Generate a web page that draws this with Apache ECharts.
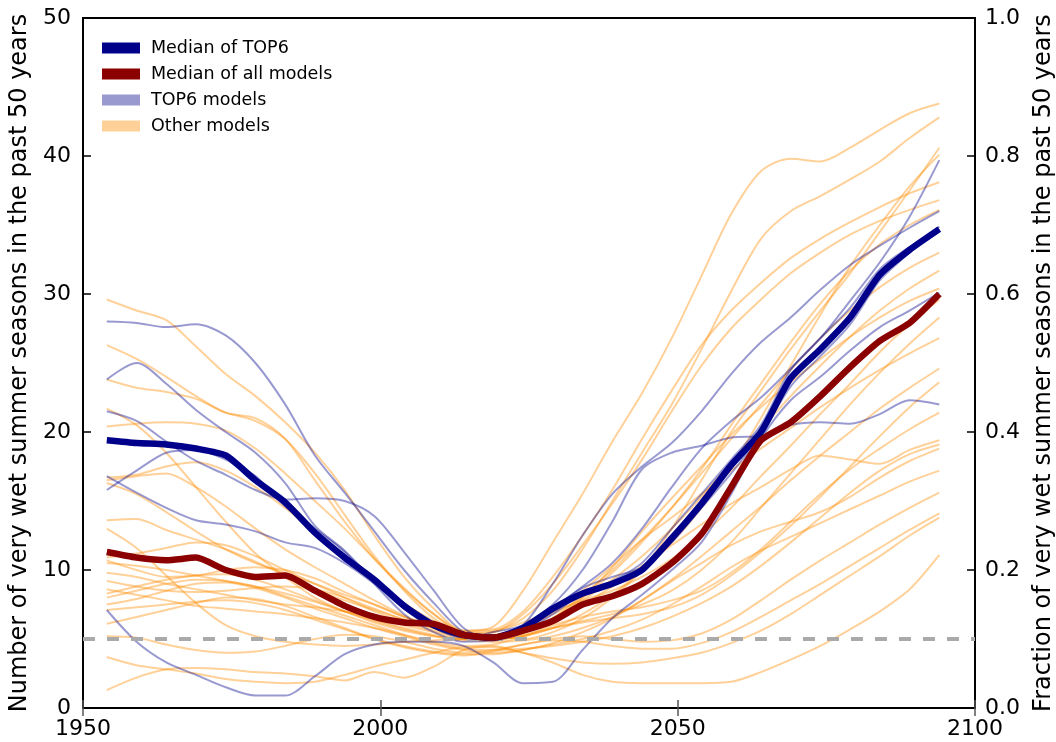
<!DOCTYPE html>
<html>
<head>
<meta charset="utf-8">
<script src="https://cdn.jsdelivr.net/npm/echarts@6/dist/echarts.min.js"></script>
<style>
  html, body { margin: 0; padding: 0; background: #fff; }
  #chart { width: 1056px; height: 742px; }
</style>
</head>
<body>
<div id="chart"></div>
<script>
// Sample years (5-year steps of the 50-year running window end)
const years = [1954,1959,1964,1969,1974,1979,1984,1989,1994,1999,2004,2009,2014,2019,2024,2029,2034,2039,2044,2049,2054,2059,2064,2069,2074,2079,2084,2089,2094];

// Medians
const medianTop6 = [19.4,19.2,19.1,18.8,18.3,16.5,14.9,12.7,10.9,9.3,7.4,6.0,5.3,5.1,5.8,7.2,8.3,9.0,10.0,12.3,14.8,17.6,20.0,23.9,26.0,28.3,31.4,33.2,34.7];
const medianAll  = [11.3,10.9,10.7,10.9,10.0,9.5,9.6,8.5,7.4,6.6,6.2,6.1,5.3,5.1,5.6,6.3,7.5,8.1,9.0,10.5,12.6,16.0,19.4,20.7,22.6,24.7,26.6,27.9,30.0];

// TOP6 models
const top1 = [28.0,27.9,27.6,27.8,27.0,25.0,22.0,18.3,15.6,12.8,10.0,7.6,5.5,4.9,6.0,9.0,12.5,15.5,17.5,19.2,21.5,24.2,26.5,28.3,30.3,32.1,33.5,34.8,36.0];
const top2 = [23.8,25.0,23.5,21.6,20.0,18.5,16.3,13.2,11.4,9.2,7.2,5.8,5.1,5.0,5.8,7.2,8.8,10.5,13.0,16.0,18.8,20.8,22.5,24.6,26.8,29.5,32.3,35.6,39.7];
const top3 = [21.5,20.8,19.3,17.9,16.9,15.8,15.1,15.2,15.0,13.9,11.3,8.5,5.8,5.0,5.5,6.8,8.3,9.2,10.5,13.0,15.5,18.0,20.5,24.5,26.8,29.0,31.8,33.4,34.6];
const top4 = [16.8,15.6,14.5,13.6,13.3,12.8,12.0,11.6,10.5,9.0,7.2,5.8,5.1,5.5,6.0,7.5,10.0,13.5,17.3,18.5,19.0,19.6,19.7,20.5,20.7,20.6,21.3,22.3,22.0];
const top5 = [15.8,17.2,18.5,18.7,18.0,16.8,14.6,13.0,11.3,9.0,6.8,5.5,4.8,4.9,5.5,7.2,8.7,9.5,10.2,12.0,14.5,17.0,19.8,23.3,25.5,27.8,31.0,33.0,34.9];
const top6 = [7.1,4.8,3.3,2.4,1.5,0.9,0.9,2.3,3.9,4.6,4.8,4.8,4.5,3.3,1.8,1.9,4.2,6.5,8.2,10.0,12.0,15.5,19.5,22.3,24.0,25.9,27.6,28.8,30.1];

// Other models
const other1  = [29.6,28.8,28.1,26.2,24.2,22.6,20.7,18.5,15.8,12.5,9.5,7.2,5.6,5.9,8.5,12.0,15.5,19.3,22.8,26.8,31.3,35.8,38.9,39.8,39.6,40.6,41.9,43.1,43.8];
const other2  = [26.3,25.3,24.0,22.6,21.4,21.0,19.5,16.5,13.5,10.8,8.6,6.8,5.5,5.6,6.5,8.5,11.5,15.0,18.5,22.0,26.0,30.2,34.0,36.0,37.1,38.3,39.6,41.3,42.8];
const other3  = [23.8,23.2,22.9,22.4,21.4,20.8,19.5,17.0,14.0,11.0,8.5,6.5,5.4,5.2,5.0,5.5,6.5,8.0,10.0,13.0,16.5,20.0,23.0,26.0,28.8,31.5,34.5,37.5,40.6];
const other4  = [21.7,20.5,18.5,16.0,13.5,11.2,9.5,8.0,7.0,6.2,5.6,5.2,5.0,5.0,5.2,5.8,6.8,8.2,10.0,12.0,14.5,17.5,21.0,24.8,28.5,32.0,35.0,37.8,40.1];
const other5  = [20.4,20.6,20.7,20.6,20.1,18.8,17.0,15.0,13.0,10.8,8.7,6.8,5.6,5.7,7.0,9.5,12.5,15.8,19.5,23.0,26.3,28.8,30.8,32.6,34.0,35.2,36.3,37.3,38.1];
const other6  = [16.7,16.9,17.5,17.8,17.2,16.0,14.5,12.8,11.0,9.2,7.6,6.3,5.4,5.5,6.8,9.0,11.8,14.8,18.0,21.5,24.8,27.5,29.6,31.5,33.0,34.3,35.3,36.1,36.8];
const other7  = [16.5,16.8,17.0,16.0,14.6,13.0,11.5,10.2,9.0,7.8,6.7,5.8,5.2,5.3,5.8,6.8,8.0,9.8,12.0,14.5,17.3,20.5,23.5,26.5,29.3,31.7,33.6,35.0,36.1];
const other8  = [16.3,15.5,14.2,12.8,11.5,10.5,9.8,9.0,8.2,7.5,6.6,5.8,5.1,4.9,5.4,6.5,8.2,10.0,12.2,14.5,17.0,19.5,22.0,24.5,26.8,28.8,30.5,31.9,33.0];
const other9  = [13.6,13.7,12.9,12.2,11.5,10.6,9.6,8.6,7.8,7.1,6.4,5.8,5.3,5.2,5.6,6.5,7.8,9.3,11.0,13.0,15.3,17.8,20.2,22.6,24.8,26.9,28.8,30.4,31.7];
const other10 = [13.0,11.6,9.6,7.6,6.0,5.2,4.8,4.6,4.5,4.6,4.8,4.9,5.0,5.0,5.5,6.5,8.0,10.2,12.8,15.2,17.5,19.8,21.8,23.6,25.3,26.9,28.3,29.5,30.4];
const other11 = [10.9,11.2,11.6,12.0,11.8,11.0,10.0,9.0,8.0,7.0,6.2,5.6,5.2,5.5,6.2,7.0,7.8,8.5,9.5,10.8,12.5,14.5,16.8,19.0,21.3,23.5,25.8,27.8,29.6];
const other12 = [10.7,10.0,9.5,9.6,10.0,10.2,10.0,9.4,8.4,7.5,6.6,5.9,5.3,5.0,5.2,5.8,6.3,6.8,7.5,8.5,10.0,12.0,14.5,17.0,19.5,22.0,24.3,26.4,28.3];
const other13 = [10.5,10.3,10.0,9.6,9.2,8.8,8.3,7.7,7.0,6.4,5.8,5.3,5.0,5.1,5.8,7.0,8.5,10.3,12.2,13.8,15.5,17.2,18.8,20.3,21.8,23.2,24.5,25.7,26.8];
const other14 = [9.8,9.5,9.0,8.6,8.2,7.8,7.5,7.3,7.0,6.6,6.0,5.5,5.0,4.8,4.9,5.2,5.8,6.6,7.8,9.3,11.0,12.8,14.6,16.5,18.3,20.0,21.7,23.2,24.6];
const other15 = [9.2,8.8,8.5,8.4,8.5,8.7,8.8,8.6,8.0,7.2,6.4,5.8,5.3,5.1,5.3,5.8,6.2,6.5,6.8,7.3,8.2,9.6,11.3,13.2,15.3,17.5,19.7,21.8,23.6];
const other16 = [8.6,8.2,7.8,7.4,7.2,7.0,6.8,6.5,6.2,5.8,5.3,4.8,4.5,4.6,5.2,6.0,6.6,7.0,7.3,7.8,8.5,9.8,11.5,13.5,15.5,17.3,18.8,20.2,21.4];
const other17 = [8.3,8.8,9.3,9.6,9.7,9.3,8.6,7.8,7.0,6.3,5.7,5.2,4.9,5.0,5.5,6.4,7.5,8.8,10.3,11.8,13.3,14.8,16.0,17.3,18.3,18.0,17.7,18.7,19.4];
const other18 = [8.0,8.5,9.0,9.3,9.2,8.8,8.1,7.4,6.7,6.0,5.3,4.7,4.3,4.2,4.3,4.5,4.8,5.2,5.8,6.6,7.6,8.8,10.3,12.0,13.8,15.6,17.2,18.4,19.1];
const other19 = [7.5,7.9,8.5,9.0,9.1,8.7,8.0,7.2,6.5,5.8,5.2,4.6,4.2,4.0,4.2,4.7,5.5,6.5,7.8,9.2,10.5,11.8,12.8,13.5,14.2,15.3,16.7,17.9,18.8];
const other20 = [7.1,7.3,7.5,7.7,7.8,7.6,7.1,6.4,5.7,5.0,4.5,4.1,3.9,3.9,4.2,4.6,5.0,5.6,6.4,7.5,8.8,10.2,11.4,12.4,13.4,14.4,15.4,16.4,17.2];
const other21 = [6.1,6.6,7.1,7.6,8.0,7.9,7.4,6.6,5.8,5.0,4.4,4.0,3.8,4.1,4.6,5.0,5.2,5.0,4.8,4.9,5.4,6.4,7.8,9.3,10.7,12.0,13.3,14.5,15.6];
const other22 = [5.2,5.1,4.6,4.2,4.0,4.1,4.5,5.0,5.3,5.2,4.8,4.3,4.0,4.2,4.6,4.9,4.8,4.5,4.3,4.3,4.7,5.5,6.6,7.8,9.0,10.3,11.6,12.9,14.1];
const other23 = [3.7,3.1,2.8,2.5,2.1,1.9,1.8,1.9,2.4,3.0,3.5,4.0,4.4,4.4,4.0,3.6,3.3,3.2,3.3,3.6,4.0,4.7,5.6,6.8,8.2,9.6,11.0,12.5,13.8];
const other24 = [1.3,2.2,2.8,2.9,2.8,2.6,2.5,2.3,2.0,2.6,2.2,3.0,4.2,4.5,4.0,3.3,2.4,1.9,1.8,1.8,1.8,1.9,2.6,3.5,4.5,5.7,7.0,8.6,11.1];

// Reference level (5 out of 50 years)
const baseline = 5;

// Axis ticks
const xTicks = [1950, 2000, 2050, 2100];
const countTicks = [0, 10, 20, 30, 40, 50];
const fracTicks = ['0.0', '0.2', '0.4', '0.6', '0.8', '1.0'];

const topModels = [top1, top2, top3, top4, top5, top6];
const otherModels = [other1, other2, other3, other4, other5, other6, other7, other8, other9, other10, other11, other12,
                     other13, other14, other15, other16, other17, other18, other19, other20, other21, other22, other23, other24];

const FONT = 'DejaVu Sans';
const NAVY = '#00008B';
const DARKRED = '#8B0000';

function pairs(vals) { return years.map((y, i) => [y, vals[i]]); }

const series = [];
otherModels.forEach(v => series.push({
  name: 'Other models', type: 'line', data: pairs(v), smooth: 0.3,
  showSymbol: false, silent: true,
  itemStyle: { color: '#FFD199' },
  lineStyle: { color: 'rgba(255,140,0,0.4)', width: 2 }
}));
topModels.forEach(v => series.push({
  name: 'TOP6 models', type: 'line', data: pairs(v), smooth: 0.3,
  showSymbol: false, silent: true,
  itemStyle: { color: '#9999D0' },
  lineStyle: { color: 'rgba(0,0,139,0.4)', width: 2 }
}));
series.push({
  name: 'level', type: 'line', data: [[xTicks[0], baseline], [xTicks[xTicks.length - 1], baseline]],
  showSymbol: false, silent: true,
  lineStyle: { color: '#aaaaaa', width: 4, type: [12, 12] }
});
series.push({
  name: 'Median of TOP6', type: 'line', data: pairs(medianTop6), smooth: 0.2,
  showSymbol: false, silent: true,
  itemStyle: { color: NAVY },
  lineStyle: { color: NAVY, width: 6.5 }
});
series.push({
  name: 'Median of all models', type: 'line', data: pairs(medianAll), smooth: 0.2,
  showSymbol: false, silent: true,
  itemStyle: { color: DARKRED },
  lineStyle: { color: DARKRED, width: 6.5 }
});

const axisFont = { fontFamily: FONT, fontSize: 22, color: '#000' };

const option = {
  backgroundColor: '#fff',
  animation: false,
  grid: {
    left: 83, right: 81, top: 18, bottom: 34,
    outerBoundsMode: 'none', containLabel: false,
    show: true, borderColor: '#000', borderWidth: 2, backgroundColor: 'transparent'
  },
  legend: {
    left: 97, top: 34, orient: 'vertical', icon: 'rect',
    itemWidth: 38, itemHeight: 11, itemGap: 8,
    textStyle: { fontFamily: FONT, fontSize: 17.5, color: '#000', padding: [0, 0, 0, 6] },
    selectedMode: false,
    data: [
      { name: 'Median of TOP6', itemStyle: { color: NAVY } },
      { name: 'Median of all models', itemStyle: { color: DARKRED } },
      { name: 'TOP6 models', itemStyle: { color: '#9999D0' } },
      { name: 'Other models', itemStyle: { color: '#FFD199' } }
    ]
  },
  xAxis: [
    {
      type: 'value', position: 'bottom', min: xTicks[0], max: xTicks[xTicks.length - 1], interval: 50,
      axisLine: { show: true, lineStyle: { color: '#000', width: 2 } },
      axisTick: { show: true, inside: true, length: 8, lineStyle: { color: '#555', width: 1.5 } },
      axisLabel: Object.assign({ margin: 10, formatter: v => String(v) }, axisFont),
      splitLine: { show: false }
    },
    {
      type: 'value', position: 'top', min: xTicks[0], max: xTicks[xTicks.length - 1], interval: 50,
      axisLine: { show: true, lineStyle: { color: '#000', width: 2 } },
      axisTick: { show: true, inside: true, length: 8, lineStyle: { color: '#555', width: 1.5 } },
      axisLabel: { show: false },
      splitLine: { show: false }
    }
  ],
  yAxis: [
    {
      type: 'value', position: 'left', min: countTicks[0], max: countTicks[countTicks.length - 1], interval: 10,
      name: 'Number of very wet summer seasons in the past 50 years',
      nameLocation: 'middle', nameRotate: 90, nameGap: 44,
      nameTextStyle: { fontFamily: FONT, fontSize: 24, color: '#000' },
      axisLine: { show: true, lineStyle: { color: '#000', width: 2 } },
      axisTick: { show: true, inside: true, length: 8, lineStyle: { color: '#000', width: 1.5 } },
      axisLabel: Object.assign({ margin: 12, formatter: v => String(v) }, axisFont),
      splitLine: { show: false }
    },
    {
      type: 'value', position: 'right', min: 0, max: 1, interval: 0.2,
      name: 'Fraction of very wet summer seasons in the past 50 years',
      nameLocation: 'middle', nameRotate: 90, nameGap: 57,
      nameTextStyle: { fontFamily: FONT, fontSize: 24, color: '#000' },
      axisLine: { show: true, lineStyle: { color: '#000', width: 2 } },
      axisTick: { show: true, inside: true, length: 8, lineStyle: { color: '#000', width: 1.5 } },
      axisLabel: Object.assign({ margin: 10, formatter: v => fracTicks[Math.round(v * 5)] }, axisFont),
      splitLine: { show: false }
    }
  ],
  series: series
};

const chart = echarts.init(document.getElementById('chart'), null, { renderer: 'canvas' });
chart.setOption(option);
</script>
</body>
</html>
